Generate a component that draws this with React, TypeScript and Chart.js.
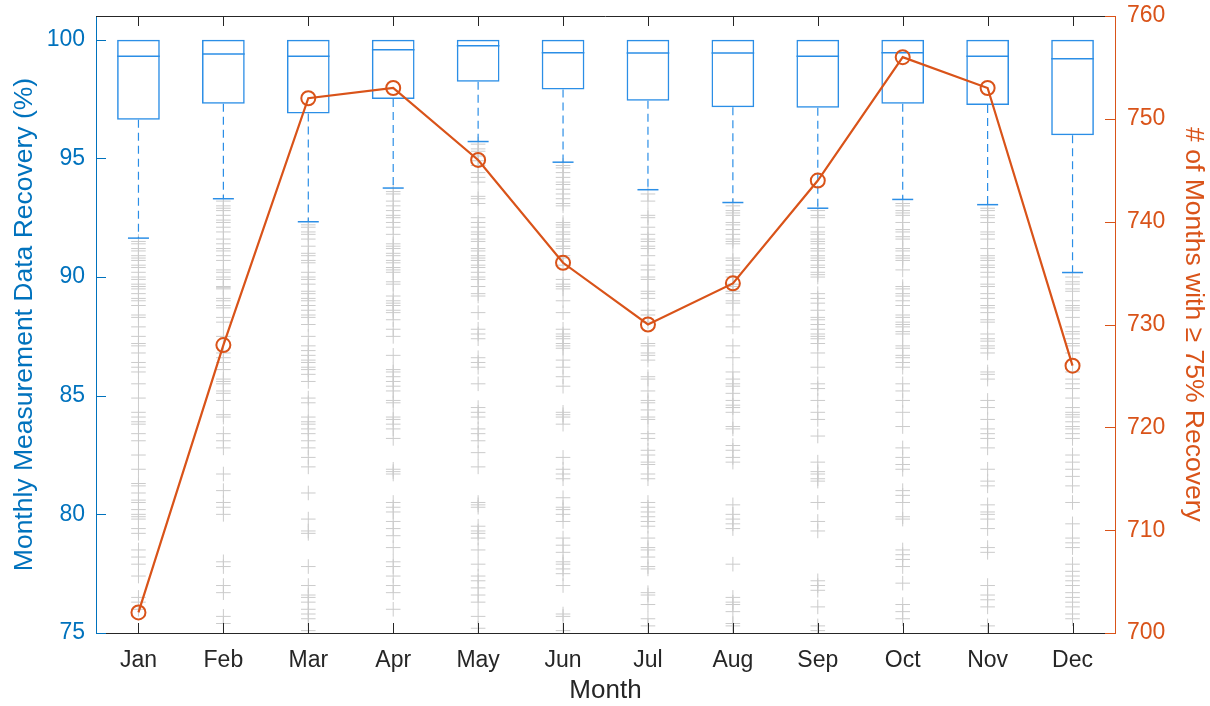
import { useEffect, useRef } from "react";
import { Chart, registerables } from "chart.js";

Chart.register(...registerables);

const months = ["Jan", "Feb", "Mar", "Apr", "May", "Jun", "Jul", "Aug", "Sep", "Oct", "Nov", "Dec"];

// Box plot statistics (left axis, %)
const boxQ1 = [96.63, 97.3, 96.89, 97.5, 98.23, 97.9, 97.43, 97.15, 97.13, 97.3, 97.25, 95.98];
const boxMedian = [99.3, 99.4, 99.3, 99.58, 99.75, 99.45, 99.44, 99.44, 99.3, 99.45, 99.3, 99.2];
const boxQ3 = [100, 100, 100, 100, 100, 100, 100, 100, 100, 100, 100, 100];
const whiskerLow = [91.64, 93.3, 92.33, 93.75, 95.71, 94.84, 93.68, 93.14, 92.9, 93.27, 93.05, 90.19];

// Count of months with >= 75% recovery (right axis)
const monthCounts = [702, 728, 752, 753, 746, 736, 730, 734, 744, 756, 753, 726];

// Outliers per month (left axis, %)
const outliersJan = [91.5, 91.4, 91.2, 91.1, 90.9, 90.8, 90.7, 90.5, 90.4, 90.2, 90.0, 89.9, 89.7, 89.6, 89.5, 89.3, 89.1, 89.0, 88.8, 88.4, 88.3, 87.9, 87.5, 87.2, 87.1, 86.8, 86.4, 86.2, 86.0, 85.5, 84.9, 84.3, 84.1, 83.9, 83.8, 83.4, 83.1, 82.5, 81.9, 81.3, 81.2, 80.9, 80.6, 80.5, 80.2, 80.0, 79.9, 79.8, 79.4, 79.2, 78.5, 78.2, 77.9, 77.4, 76.5, 76.3, 76.0];
const outliersFeb = [93.2, 93.0, 92.9, 92.8, 92.6, 92.4, 92.3, 92.1, 91.9, 91.6, 91.4, 91.2, 91.1, 90.9, 90.7, 90.3, 90.2, 90.0, 89.9, 89.6, 89.55, 89.5, 89.1, 89.0, 88.8, 88.7, 88.3, 88.1, 87.5, 86.8, 86.6, 86.4, 86.1, 85.7, 85.6, 85.5, 85.2, 85.1, 84.8, 84.2, 84.1, 83.4, 83.1, 82.8, 81.7, 81.0, 80.5, 80.3, 80.0, 78.0, 77.8, 77.0, 76.7, 75.7, 75.4];
const outliersMar = [92.2, 92.1, 91.9, 91.8, 91.6, 91.3, 91.0, 90.9, 90.7, 90.6, 90.2, 90.0, 89.9, 89.7, 89.4, 89.3, 89.1, 89.0, 88.8, 88.6, 88.4, 88.3, 88.0, 87.5, 87.1, 86.9, 86.7, 86.5, 86.4, 86.2, 86.1, 85.9, 85.6, 84.9, 84.7, 84.1, 83.9, 83.8, 83.6, 83.4, 83.1, 82.8, 82.4, 82.0, 80.9, 79.8, 79.3, 79.2, 77.8, 77.0, 76.6, 76.5, 76.3, 76.0, 75.8, 75.6, 75.1];
const outliersApr = [93.6, 93.5, 93.2, 93.0, 92.8, 92.6, 92.5, 92.3, 92.1, 91.8, 91.4, 91.3, 91.2, 91.0, 90.9, 90.7, 90.6, 90.4, 90.3, 90.2, 89.8, 89.7, 89.2, 89.0, 88.9, 88.8, 88.6, 88.5, 88.2, 87.8, 87.5, 86.7, 86.1, 86.0, 85.8, 85.6, 85.4, 85.2, 84.8, 84.7, 84.1, 84.0, 83.8, 83.6, 83.2, 81.9, 81.8, 81.7, 80.5, 80.3, 80.1, 79.7, 79.4, 79.1, 78.6, 78.0, 77.8, 77.4, 77.0, 76.7, 76.0];
const outliersMay = [95.6, 95.4, 95.3, 95.1, 94.9, 94.7, 94.4, 94.2, 94.0, 93.4, 93.3, 93.1, 92.5, 92.3, 92.1, 91.9, 91.8, 91.6, 91.5, 91.2, 91.1, 90.9, 90.8, 90.7, 90.5, 90.4, 90.2, 90.0, 89.9, 89.6, 89.3, 89.2, 88.5, 87.8, 87.6, 87.4, 86.6, 86.4, 86.2, 85.5, 84.5, 84.3, 84.1, 83.6, 83.4, 83.1, 82.6, 82.0, 80.5, 80.4, 80.3, 79.5, 79.3, 79.2, 79.0, 78.5, 77.9, 77.4, 77.2, 76.9, 76.6, 76.3, 75.7, 75.2];
const outliersJun = [94.7, 94.6, 94.4, 94.2, 94.0, 93.9, 93.7, 93.5, 93.3, 93.1, 93.0, 92.3, 92.2, 92.1, 91.9, 91.8, 91.6, 91.5, 91.3, 91.2, 90.9, 90.8, 90.5, 89.9, 89.7, 89.6, 89.5, 89.0, 88.5, 87.8, 87.6, 87.5, 87.4, 87.2, 87.1, 87.0, 86.5, 86.2, 85.8, 85.4, 84.3, 84.2, 84.1, 83.8, 82.4, 81.9, 81.7, 81.5, 80.7, 80.3, 80.2, 80.0, 79.7, 79.0, 78.7, 78.4, 78.0, 77.9, 77.7, 77.5, 77.0, 75.8, 75.7, 75.1];
const outliersJul = [93.5, 93.2, 92.6, 92.5, 92.1, 91.8, 91.6, 91.5, 91.3, 91.2, 90.9, 90.5, 90.3, 90.0, 89.9, 89.4, 89.3, 89.1, 88.6, 88.4, 88.1, 87.2, 87.1, 86.8, 86.7, 86.5, 85.8, 85.7, 85.2, 84.8, 84.7, 84.4, 84.1, 84.0, 83.4, 83.2, 82.7, 82.5, 82.2, 82.1, 81.7, 81.5, 80.5, 80.3, 80.1, 79.9, 79.7, 79.5, 79.0, 78.6, 78.5, 78.2, 77.8, 77.7, 76.7, 76.6, 76.2, 75.6, 75.3];
const outliersAug = [93.0, 92.8, 92.7, 92.6, 92.3, 92.2, 92.0, 91.8, 91.6, 91.5, 91.4, 90.8, 90.7, 90.5, 90.3, 90.2, 90.0, 89.7, 89.6, 89.4, 89.3, 89.0, 88.9, 88.4, 87.9, 87.1, 86.6, 86.0, 85.7, 85.5, 85.4, 85.1, 84.8, 84.6, 84.5, 84.3, 83.7, 83.6, 82.9, 82.7, 82.4, 82.2, 80.4, 80.0, 79.8, 79.6, 79.4, 77.9, 76.5, 76.3, 76.2, 75.9, 75.4, 75.3];
const outliersSep = [92.8, 92.6, 92.5, 92.1, 91.9, 91.8, 91.6, 91.5, 91.4, 91.2, 91.1, 90.9, 90.8, 90.7, 90.5, 90.4, 90.2, 90.1, 90.0, 89.3, 89.1, 88.9, 88.6, 88.3, 88.2, 88.0, 87.8, 87.6, 87.5, 87.4, 87.2, 86.8, 86.2, 85.5, 85.3, 84.8, 84.3, 84.0, 83.3, 82.2, 81.8, 81.7, 81.5, 81.4, 80.5, 79.7, 79.3, 77.2, 77.0, 76.8, 76.1, 75.3, 75.1];
const outliersOct = [93.1, 93.0, 92.8, 92.7, 92.6, 92.3, 92.0, 91.9, 91.7, 91.6, 91.2, 91.1, 90.9, 90.8, 90.7, 90.3, 89.6, 89.5, 89.3, 89.2, 89.0, 88.8, 88.4, 88.3, 88.1, 88.0, 87.9, 87.7, 87.6, 87.1, 87.0, 86.7, 86.6, 86.4, 86.2, 85.5, 85.2, 84.8, 84.3, 83.7, 82.8, 82.4, 82.1, 81.9, 81.0, 80.8, 80.5, 79.9, 79.8, 78.5, 78.3, 78.1, 77.8, 77.1, 76.2, 75.9, 75.6];
const outliersNov = [92.9, 92.8, 92.6, 92.5, 92.3, 91.9, 91.8, 91.6, 91.2, 90.9, 90.8, 90.7, 90.5, 90.4, 90.2, 90.0, 89.7, 89.6, 89.3, 89.1, 88.8, 88.7, 88.5, 88.2, 88.1, 87.6, 87.4, 87.3, 87.1, 87.0, 86.8, 86.0, 85.9, 85.7, 84.8, 84.5, 84.0, 83.6, 83.4, 83.2, 82.8, 81.9, 81.4, 81.2, 80.4, 80.1, 80.0, 79.8, 79.4, 78.6, 78.4, 77.0, 76.6, 76.4, 76.1, 75.3];
const outliersDec = [90.0, 89.8, 89.7, 89.5, 89.4, 89.0, 88.8, 88.7, 88.6, 88.3, 87.9, 87.7, 87.6, 87.4, 87.2, 87.1, 86.8, 86.0, 85.7, 85.5, 85.3, 84.9, 84.5, 84.3, 84.2, 84.1, 83.9, 83.7, 83.6, 83.4, 83.2, 82.5, 82.2, 81.9, 81.6, 81.2, 80.5, 79.6, 79.0, 78.8, 78.6, 77.9, 77.6, 77.4, 77.2, 77.0, 76.7, 76.5, 76.3, 76.1, 75.8, 75.6];

const outliersByMonth = [outliersJan, outliersFeb, outliersMar, outliersApr, outliersMay, outliersJun, outliersJul, outliersAug, outliersSep, outliersOct, outliersNov, outliersDec];

const leftTicks = [75, 80, 85, 90, 95, 100];
const rightTicks = [700, 710, 720, 730, 740, 750, 760];

const FONT = "'Liberation Sans', Arial, Helvetica, sans-serif";
const LEFT_C = "#0072BD";
const RIGHT_C = "#D95319";
const BOX_C = "#2B8EE6";
const AXIS_C = "#262626";
const OUT_C = "#CBCBCB";

const innerTicks = {
  id: "innerTicks",
  afterDraw(chart: any) {
    const { ctx, chartArea: a, scales } = chart;
    const L = 10;
    ctx.save();
    ctx.lineWidth = 1;
    ctx.strokeStyle = AXIS_C;
    ctx.beginPath();
    ctx.moveTo(a.left, a.top + 0.5);
    ctx.lineTo(a.right, a.top + 0.5);
    ctx.stroke();
    scales.x.ticks.forEach((_t: any, i: number) => {
      const x = Math.round(scales.x.getPixelForTick(i)) + 0.5;
      ctx.beginPath();
      ctx.moveTo(x, a.bottom);
      ctx.lineTo(x, a.bottom - L);
      ctx.moveTo(x, a.top);
      ctx.lineTo(x, a.top + L);
      ctx.stroke();
    });
    ctx.strokeStyle = LEFT_C;
    scales.y.ticks.forEach((t: any) => {
      const y = Math.round(scales.y.getPixelForValue(t.value)) + 0.5;
      ctx.beginPath();
      ctx.moveTo(a.left, y);
      ctx.lineTo(a.left + L, y);
      ctx.stroke();
    });
    ctx.strokeStyle = RIGHT_C;
    scales.y2.ticks.forEach((t: any) => {
      const y = Math.round(scales.y2.getPixelForValue(t.value)) + 0.5;
      ctx.beginPath();
      ctx.moveTo(a.right, y);
      ctx.lineTo(a.right - L, y);
      ctx.stroke();
    });
    ctx.restore();
  },
};

const fixYAxis = (w: number) => (s: any) => {
  s.width = w;
  s.paddingTop = 0;
  s.paddingBottom = 0;
};

export default function App() {
  const canvasRef = useRef<HTMLCanvasElement | null>(null);

  useEffect(() => {
    document.body.style.margin = "0";
    const canvas = canvasRef.current;
    if (!canvas) return;

    const whiskerData: any[] = [];
    months.forEach((m, i) => {
      whiskerData.push({ x: m, y: boxQ1[i] });
      whiskerData.push({ x: m, y: whiskerLow[i] });
      whiskerData.push({ x: m, y: null });
    });
    const outlierData = months.flatMap((m, i) => outliersByMonth[i].map((v) => ({ x: m, y: v })));

    const chart = new Chart(canvas, {
      type: "line",
      data: {
        labels: months,
        datasets: [
          {
            type: "line",
            label: "# of Months",
            data: monthCounts,
            yAxisID: "y2",
            borderColor: RIGHT_C,
            borderWidth: 2.2,
            pointStyle: "circle",
            pointRadius: 7,
            pointBorderWidth: 2,
            pointBorderColor: RIGHT_C,
            pointBackgroundColor: "rgba(0,0,0,0)",
            order: 0,
          } as any,
          {
            type: "bar",
            label: "Box",
            data: months.map((_m, i) => [boxQ1[i], boxQ3[i]]),
            yAxisID: "y",
            backgroundColor: "rgba(0,0,0,0)",
            borderColor: BOX_C,
            borderWidth: 1.5,
            borderSkipped: false,
            barPercentage: 0.503,
            categoryPercentage: 1,
            order: 3,
          } as any,
          {
            type: "line",
            label: "Median",
            data: months.map((m, i) => ({ x: m, y: boxMedian[i] })),
            yAxisID: "y",
            showLine: false,
            pointStyle: "line",
            pointRadius: 21.3,
            pointBorderColor: BOX_C,
            pointBorderWidth: 1.5,
            order: 2,
          } as any,
          {
            type: "line",
            label: "Whisker",
            data: whiskerData,
            yAxisID: "y",
            borderColor: BOX_C,
            borderWidth: 1.2,
            borderDash: [8, 5],
            pointRadius: 0,
            spanGaps: false,
            order: 4,
          } as any,
          {
            type: "line",
            label: "Cap",
            data: months.map((m, i) => ({ x: m, y: whiskerLow[i] })),
            yAxisID: "y",
            showLine: false,
            pointStyle: "line",
            pointRadius: 10.5,
            pointBorderColor: BOX_C,
            pointBorderWidth: 1.5,
            order: 2,
          } as any,
          {
            type: "line",
            label: "Outliers",
            data: outlierData,
            yAxisID: "y",
            showLine: false,
            pointStyle: "cross",
            pointRadius: 7.3,
            pointBorderColor: OUT_C,
            pointBorderWidth: 1,
            order: 5,
          } as any,
        ],
      },
      options: {
        responsive: false,
        animation: false,
        events: [],
        layout: { autoPadding: false, padding: { top: 16, left: 0, right: 0, bottom: 0 } },
        plugins: { legend: { display: false }, tooltip: { enabled: false } },
        scales: {
          x: {
            type: "category",
            labels: months,
            offset: true,
            grid: { display: false, drawTicks: false },
            border: { display: true, color: AXIS_C, width: 1 },
            ticks: { color: AXIS_C, font: { family: FONT, size: 23 }, padding: 14, maxRotation: 0, autoSkip: false },
            title: { display: true, text: "Month", color: AXIS_C, font: { family: FONT, size: 26 }, padding: { top: 0, bottom: 0 } },
            afterFit: (s: any) => {
              s.height = 73;
              s.paddingLeft = 0;
              s.paddingRight = 0;
            },
          },
          y: {
            type: "linear",
            position: "left",
            min: 75,
            max: 101,
            afterBuildTicks: (s: any) => {
              s.ticks = leftTicks.map((v) => ({ value: v }));
            },
            grid: { display: false, drawTicks: false },
            border: { display: true, color: LEFT_C, width: 1 },
            ticks: { color: LEFT_C, font: { family: FONT, size: 23 }, padding: 11 },
            title: { display: true, text: "Monthly Measurement Data Recovery (%)", color: LEFT_C, font: { family: FONT, size: 26.5 }, padding: { top: 9, bottom: 0 } },
            afterFit: fixYAxis(96),
          },
          y2: {
            type: "linear",
            position: "right",
            min: 700,
            max: 760,
            afterBuildTicks: (s: any) => {
              s.ticks = rightTicks.map((v) => ({ value: v }));
            },
            grid: { display: false, drawTicks: false },
            border: { display: true, color: RIGHT_C, width: 1 },
            ticks: { color: RIGHT_C, font: { family: FONT, size: 23 }, padding: 12 },
            title: { display: true, text: "# of Months with \u2265 75% Recovery", color: RIGHT_C, font: { family: FONT, size: 26.5 }, padding: { top: 1, bottom: 0 } },
            afterFit: fixYAxis(95),
          },
        },
      } as any,
      plugins: [innerTicks],
    });

    return () => {
      chart.destroy();
    };
  }, []);

  return (
    <div style={{ width: 1210, height: 706, background: "#fff" }}>
      <canvas ref={canvasRef} width={1210} height={706} style={{ display: "block" }} />
    </div>
  );
}
